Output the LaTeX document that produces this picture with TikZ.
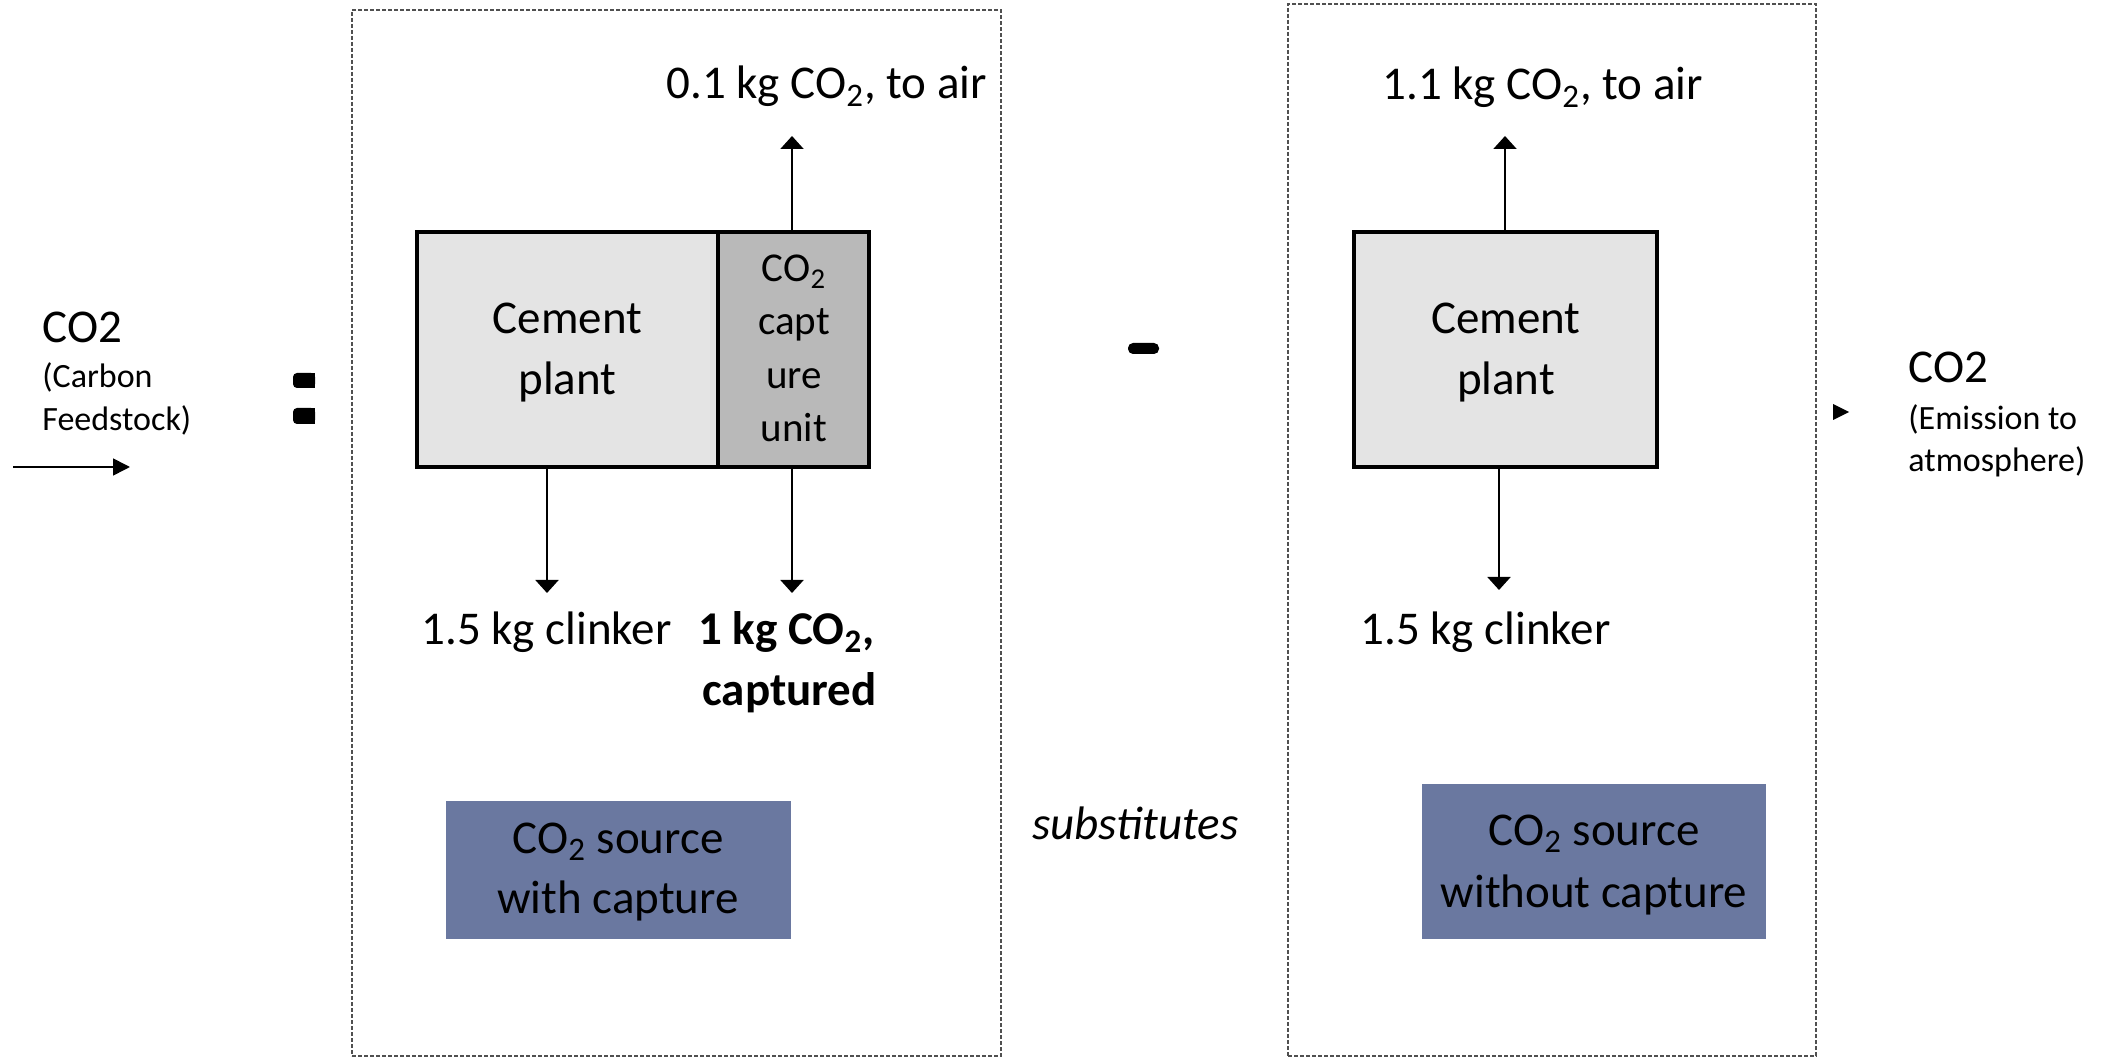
\documentclass[tikz,border=0pt]{standalone}
\usepackage{fontspec}
\setmainfont{Carlito}
\usetikzlibrary{arrows.meta}
\definecolor{plantgray}{HTML}{E4E4E4}
\definecolor{capgray}{HTML}{B9B9B9}
\definecolor{srcblue}{HTML}{6A78A0}
\definecolor{dashgray}{HTML}{505050}
\begin{document}
\begin{tikzpicture}[x=0.5pt,y=-0.5pt,
  txt/.style={inner sep=0pt, font=\fontsize{23.5}{28}\selectfont},
  boldtxt/.style={inner sep=0pt, font=\fontsize{23.5}{28}\selectfont\bfseries},
  ittxt/.style={inner sep=0pt, font=\fontsize{23.5}{28}\selectfont\itshape},
  smalltxt/.style={inner sep=0pt, font=\fontsize{17}{21}\selectfont},
  captxt/.style={inner sep=0pt, font=\fontsize{20.5}{24}\selectfont},
  plantbox/.style={draw=black, line width=2pt, fill=plantgray, minimum height=117.5pt, inner sep=0pt},
  capbox/.style={draw=black, line width=2pt, fill=capgray, minimum height=117.5pt, minimum width=75.5pt, inner sep=0pt},
  srcbox/.style={fill=srcblue, inner sep=0pt},
  sysbox/.style={draw=dashgray, line width=0.85pt, dash pattern=on 2pt off 1pt, inner sep=0pt},
  arr/.style={line width=1pt, -{Triangle[length=6.5pt,width=11.5pt]}},
  thinarr/.style={line width=0.8pt, -{Triangle[length=8.5pt,width=8.5pt]}},
]
\useasboundingbox (0,0) rectangle (2105,1058);

% system boundaries
\node[sysbox, minimum width=324.5pt, minimum height=523pt] (sysL) at (676.5,533) {};
\node[sysbox, minimum width=264pt, minimum height=526pt] (sysR) at (1552,530) {};

% process boxes
\node[plantbox, minimum width=150.5pt] (cpL) at (567.5,349.5) {};
\node[capbox] (capL) at (793.5,349.5) {};
\node[plantbox, minimum width=151.5pt] (cpR) at (1505.5,349.5) {};
\node[srcbox, minimum width=172.5pt, minimum height=69pt] (srcL) at (618.5,870) {};
\node[srcbox, minimum width=172pt, minimum height=77.5pt] (srcR) at (1594,861.5) {};

% box texts
\node[txt, anchor=base] (cpLa) at (567.5,334) {Cement};
\node[txt, anchor=base] (cpLb) at (567.5,395) {plant};
\node[captxt, anchor=base] (capa) at (794,282) {CO\textsubscript{2}};
\node[captxt, anchor=base] (capb) at (794,335) {capt};
\node[captxt, anchor=base] (capc) at (794,389) {ure};
\node[captxt, anchor=base] (capd) at (794,442) {unit};
\node[txt, anchor=base] (cpRa) at (1506,334) {Cement};
\node[txt, anchor=base] (cpRb) at (1506,395) {plant};
\node[txt, anchor=base] (srcLa) at (618,853) {CO\textsubscript{2} source};
\node[txt, anchor=base] (srcLb) at (618,913) {with capture};
\node[txt, anchor=base] (srcRa) at (1594,845) {CO\textsubscript{2} source};
\node[txt, anchor=base] (srcRb) at (1594,907) {without capture};

% flow labels
\node[txt, anchor=base west] (airL) at (666,99) {0.1 kg CO\textsubscript{2}, to air};
\node[txt, anchor=base west] (airR) at (1382,100) {1.1 kg CO\textsubscript{2}, to air};
\node[txt, anchor=base west] (clkL) at (421,645) {1.5 kg clinker};
\node[boldtxt, anchor=base west] (captA) at (698,645) {1 kg CO\textsubscript{2},};
\node[boldtxt, anchor=base west] (captB) at (702,705) {captured};
\node[txt, anchor=base west] (clkR) at (1360,645) {1.5 kg clinker};
\node[ittxt, anchor=base west] (subst) at (1032,839) {substitutes};

% side labels
\node[txt, anchor=base west] (feedA) at (42,343) {CO2};
\node[smalltxt, anchor=base west] (feedB) at (42,388) {(Carbon};
\node[smalltxt, anchor=base west] (feedC) at (42,431) {Feedstock)};
\node[txt, anchor=base west] (emisA) at (1908,383) {CO2};
\node[smalltxt, anchor=base west] (emisB) at (1908,430) {(Emission to};
\node[smalltxt, anchor=base west] (emisC) at (1908,472) {atmosphere)};

% arrows
\coordinate (upL) at (792,136);
\coordinate (dnLa) at (547,593);
\coordinate (dnLb) at (792,593);
\coordinate (upR) at (1505,136);
\coordinate (dnR) at (1499,590);
\draw[arr] (capL.north -| upL) -- (upL);
\draw[arr] (cpL.south -| dnLa) -- (dnLa);
\draw[arr] (capL.south -| dnLb) -- (dnLb);
\draw[arr] (cpR.north -| upR) -- (upR);
\draw[arr] (cpR.south -| dnR) -- (dnR);

\coordinate (inS) at (13,467);
\coordinate (inE) at (130,467);
\draw[thinarr] (inS) -- (inE);
\fill (1833,404) -- (1849,412) -- (1833,420) -- cycle;

% operators
\fill[rounded corners=2pt] (293,373) rectangle (315,388);
\fill (305,373) rectangle (315,388);
\fill[rounded corners=2pt] (293,408) rectangle (315,424);
\fill (305,408) rectangle (315,424);
\fill[rounded corners=2.5pt] (1128,343) rectangle (1159,354);
\end{tikzpicture}
\end{document}
